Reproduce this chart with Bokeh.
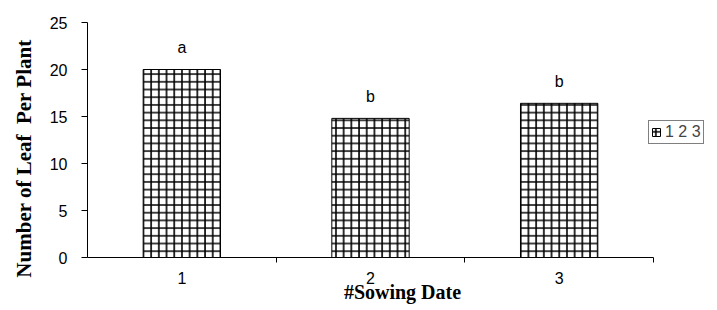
from bokeh.plotting import figure
from bokeh.models import FixedTicker, ColumnDataSource, Range1d, Legend, LegendItem
from bokeh.core.properties import value
from bokeh.embed import file_html
from bokeh.resources import INLINE

categories = ["1", "2", "3"]
leaves = [20.0, 14.8, 16.4]
letters = ["a", "b", "b"]
y_ticks = [0, 5, 10, 15, 20, 25]
series_name = "1 2 3"
x_title = "#Sowing Date"
y_title = "Number of Leaf\u00a0 Per Plant"

xpos = [i + 1 for i in range(len(categories))]
src = ColumnDataSource(dict(x=xpos, top=leaves, lab=letters))

# layout: frame spans to the right edge; the axis itself covers 566 px of it
W, H = 717, 310
left_border = 87
axis_px = 566
frame_w = W - left_border
x_end = 0.5 + len(categories) * frame_w / axis_px

p = figure(width=W, height=H, output_backend="svg", toolbar_location=None,
           x_range=Range1d(0.5, x_end), y_range=Range1d(0, 25),
           min_border_left=left_border, min_border_right=0, min_border_top=22, min_border_bottom=53)
p.outline_line_color = None
p.grid.visible = False
p.background_fill_color = "white"

r = p.vbar(x="x", top="top", width=0.41, source=src, fill_color="white",
           line_color="black", line_width=1, hatch_pattern="+", hatch_color="black",
           hatch_scale=7.7, hatch_weight=1.6)

p.text(x="x", y="top", text="lab", source=src, y_offset=-22, text_align="center",
       text_baseline="middle", text_font=value("Liberation Sans"), text_font_size="16px",
       text_color="black")

xa = p.xaxis[0]
xa.bounds = (0.5, len(categories) + 0.5)
xa.ticker = FixedTicker(ticks=xpos, minor_ticks=[x + 0.5 for x in xpos])
xa.major_label_overrides = {x: c for x, c in zip(xpos, categories)}
xa.major_tick_out = 0
xa.major_tick_in = 0
xa.minor_tick_out = 5
xa.minor_tick_in = 0
xa.minor_tick_line_color = "black"
xa.axis_line_color = "black"
xa.major_label_text_font = "Liberation Sans"
xa.major_label_text_font_size = "16px"
xa.major_label_text_color = "black"
xa.major_label_standoff = 9
xa.axis_label = x_title
xa.axis_label_text_font = "Liberation Serif"
xa.axis_label_text_font_style = "bold"
xa.axis_label_text_font_size = "20px"
xa.axis_label_standoff = -6
xa.axis_label_text_color = "black"

ya = p.yaxis[0]
ya.ticker = FixedTicker(ticks=y_ticks, minor_ticks=[])
ya.major_tick_out = 6
ya.major_tick_in = 0
ya.major_tick_line_color = "black"
ya.axis_line_color = "black"
ya.major_label_text_font = "Liberation Sans"
ya.major_label_text_font_size = "16px"
ya.major_label_text_color = "black"
ya.major_label_standoff = 14
# trailing no-break spaces shift the visible title downward along the axis, as in the reference
ya.axis_label = y_title + "\u00a0" * 7
ya.axis_label_text_font = "Liberation Serif"
ya.axis_label_text_font_style = "bold"
ya.axis_label_text_font_size = "21px"
ya.axis_label_standoff = 11
ya.axis_label_text_color = "black"

legend = Legend(items=[LegendItem(label=series_name, renderers=[r])], location=(561, 113),
                border_line_color="black", border_line_width=1, padding=2, margin=0,
                glyph_width=10, glyph_height=10, label_standoff=4,
                label_text_font="Liberation Sans", label_text_font_size="16px",
                label_height=14, background_fill_alpha=1)
p.add_layout(legend, "center")

open("out.html", "w").write(file_html(p, INLINE))
